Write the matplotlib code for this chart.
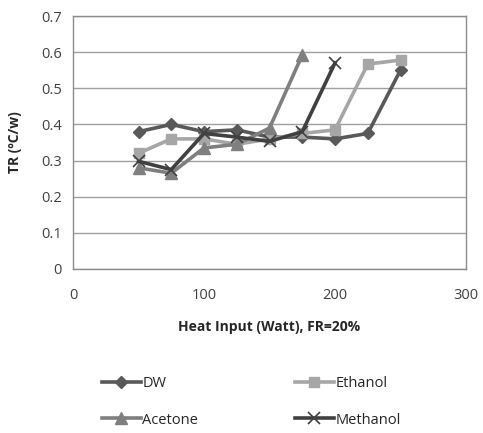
import matplotlib
matplotlib.use("Agg")
import matplotlib.pyplot as plt

heat = [50, 75, 100, 125, 150, 175, 200, 225, 250]
dw = [0.38, 0.40, 0.38, 0.385, 0.365, 0.365, 0.36, 0.375, 0.55]
ethanol = [0.32, 0.36, 0.36, 0.345, 0.36, 0.375, 0.385, 0.567, 0.578]
acetone = [0.28, 0.265, 0.335, 0.345, 0.39, 0.592]
methanol = [0.298, 0.275, 0.375, 0.365, 0.353, 0.38, 0.57]

xticks = [0, 100, 200, 300]
yticks = [0, 0.1, 0.2, 0.3, 0.4, 0.5, 0.6, 0.7]
ytick_labels = ["0", "0.1", "0.2", "0.3", "0.4", "0.5", "0.6", "0.7"]

plt.rcParams['font.family'] = ['Open Sans', 'DejaVu Sans']

fig = plt.figure(figsize=(4.83, 4.33), dpi=100)
ax = fig.add_axes([73/483, 1-269/433, (466-73)/483, (269-16)/433])

lw = 2.6
h_dw, = ax.plot(heat[:len(dw)], dw, color="#595959", marker="D", ms=6, lw=lw, label="DW", zorder=3)
h_et, = ax.plot(heat[:len(ethanol)], ethanol, color="#a6a6a6", marker="s", ms=7.5, lw=lw, label="Ethanol", zorder=3)
h_ac, = ax.plot(heat[:len(acetone)], acetone, color="#7f7f7f", marker="^", ms=8, lw=lw, label="Acetone", zorder=3)
h_me, = ax.plot(heat[:len(methanol)], methanol, color="#404040", marker="x", ms=8, mew=1.2, lw=lw, label="Methanol", zorder=4)

ax.set_xlim(0, 300)
ax.set_ylim(0, 0.7)
ax.set_xticks(xticks)
ax.set_yticks(yticks)
ax.set_yticklabels(ytick_labels)
ax.tick_params(length=0, labelsize=10.5, colors="#404040", pad=8)
ax.tick_params(axis='x', pad=14)
ax.grid(axis='y', color="#a0a0a0", lw=1)
ax.set_axisbelow(True)
for s in ax.spines.values():
    s.set_color("#8c8c8c")
    s.set_linewidth(1)

ax.set_xlabel("Heat Input (Watt), FR=20%", fontsize=10, fontweight="bold", color="#262626", labelpad=12)
ax.set_ylabel("TR (ºC/w)", fontsize=10, fontweight="bold", color="#262626", labelpad=14)

fig.legend([h_dw, h_ac, h_et, h_me], ["DW", "Acetone", "Ethanol", "Methanol"],
           ncol=2, loc="center", bbox_to_anchor=(0.52, 1-402/433), frameon=False,
           fontsize=10.5, handlelength=2.7, columnspacing=6.6, labelspacing=1.45,
           handletextpad=0.1, labelcolor="#262626")

fig.savefig("out.png", dpi=100)
